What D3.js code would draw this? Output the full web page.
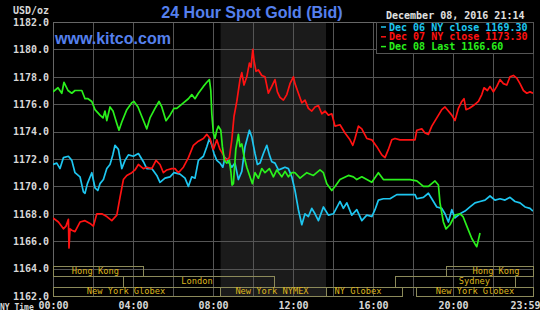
<!DOCTYPE html>
<html><head><meta charset="utf-8">
<script src="https://cdn.jsdelivr.net/npm/d3@7"></script>
<style>html,body{margin:0;padding:0;background:#000;}svg{display:block;}</style>
</head><body>
<script>
// ---- data (hours NY time, USD/oz) ----
const dec06 = [[0,1171.6],[0.19,1171.7],[0.35,1171.3],[0.52,1172.1],[0.77,1172.2],[0.94,1171.9],[1.1,1171.0],[1.35,1170.7],[1.52,1169.6],[1.6,1169.5],[1.72,1170.2],[1.94,1171.0],[2.1,1169.9],[2.24,1169.7],[2.35,1170.2],[2.52,1170.5],[2.69,1171.3],[2.85,1171.6],[2.99,1172.3],[3.1,1173.0],[3.27,1172.7],[3.44,1171.3],[3.6,1171.9],[3.77,1172.3],[4.02,1172.2],[4.27,1172.4],[4.52,1171.8],[4.69,1171.3],[4.94,1171.3],[5.19,1170.8],[5.35,1170.3],[5.6,1170.6],[5.85,1170.7],[6.05,1171.0],[6.35,1170.9],[6.6,1170.6],[6.77,1170.0],[6.94,1170.7],[7.1,1170.6],[7.27,1171.9],[7.52,1172.2],[7.69,1172.9],[7.82,1173.5],[7.94,1173.0],[8.05,1172.4],[8.19,1171.9],[8.35,1171.7],[8.49,1171.4],[8.6,1172.1],[8.77,1171.8],[8.94,1171.4],[9.1,1171.7],[9.27,1170.5],[9.44,1171.1],[9.6,1172.9],[9.82,1174.1],[9.94,1173.6],[10.1,1172.4],[10.22,1171.6],[10.35,1171.7],[10.52,1172.4],[10.69,1173.0],[10.82,1172.3],[10.94,1171.8],[11.1,1171.7],[11.27,1171.2],[11.44,1171.3],[11.6,1171.4],[11.77,1171.3],[11.94,1170.7],[12.1,1169.7],[12.27,1168.3],[12.44,1167.2],[12.6,1168.0],[12.77,1167.8],[12.94,1168.4],[13.1,1168.0],[13.27,1167.5],[13.52,1168.5],[13.77,1167.9],[14.02,1168.0],[14.35,1168.9],[14.52,1168.4],[14.69,1168.8],[14.94,1167.9],[15.19,1168.3],[15.44,1167.5],[15.69,1167.9],[15.94,1167.8],[16.1,1168.3],[16.27,1169.0],[16.52,1169.1],[16.85,1169.1],[17.19,1169.4],[18.1,1169.4],[18.19,1169.1],[18.52,1169.2],[18.77,1169.5],[18.94,1169.1],[19.19,1168.5],[19.44,1168.4],[19.6,1168.0],[19.77,1167.4],[19.94,1168.3],[20.1,1167.7],[20.35,1168.0],[20.6,1168.2],[20.85,1168.5],[21.1,1168.8],[21.35,1168.9],[21.6,1169.0],[21.85,1169.3],[22.1,1169.0],[22.35,1169.1],[22.6,1169.0],[22.85,1169.2],[23.1,1168.9],[23.35,1168.8],[23.6,1168.5],[23.85,1168.4],[24,1168.2]];

const dec07 = [[0,1167.7],[0.27,1167.4],[0.52,1166.9],[0.65,1167.1],[0.77,1167.6],[0.8,1165.5],[0.85,1166.9],[0.94,1166.8],[1.1,1166.7],[1.35,1167.4],[1.6,1167.5],[1.85,1167.3],[2.02,1167.1],[2.19,1168.0],[2.44,1168.0],[2.69,1167.8],[2.94,1167.5],[3.19,1167.9],[3.35,1169.2],[3.52,1170.5],[3.69,1170.8],[3.94,1171.0],[4.1,1171.2],[4.27,1171.6],[4.52,1171.3],[4.69,1171.4],[4.94,1171.3],[5.15,1171.9],[5.35,1171.6],[5.52,1171.0],[5.69,1171.2],[5.94,1171.3],[6.1,1171.3],[6.27,1171.0],[6.52,1171.4],[6.77,1172.1],[7.02,1173.0],[7.27,1173.3],[7.52,1173.5],[7.69,1173.8],[7.85,1173.5],[8.02,1172.7],[8.19,1173.4],[8.35,1172.7],[8.52,1172.3],[8.65,1171.9],[8.82,1172.1],[8.94,1173.4],[9.05,1175.1],[9.19,1176.2],[9.35,1177.8],[9.44,1178.3],[9.55,1177.4],[9.69,1178.0],[9.82,1179.0],[9.9,1178.7],[9.99,1180.0],[10.05,1179.2],[10.15,1178.4],[10.27,1178.5],[10.44,1178.1],[10.6,1178.0],[10.77,1176.8],[10.94,1177.3],[11.1,1177.8],[11.22,1176.9],[11.35,1176.5],[11.52,1176.3],[11.69,1176.7],[11.85,1177.5],[12.02,1178.0],[12.1,1177.5],[12.27,1176.8],[12.44,1176.1],[12.6,1176.3],[12.77,1175.7],[12.94,1175.5],[13.1,1175.8],[13.27,1175.9],[13.44,1175.3],[13.6,1175.5],[13.77,1175.2],[13.94,1175.3],[14.1,1174.4],[14.35,1174.5],[14.6,1173.9],[14.85,1173.4],[14.99,1173.0],[15.1,1173.5],[15.27,1174.4],[15.44,1174.2],[15.69,1173.5],[15.94,1173.4],[16.19,1172.9],[16.44,1172.3],[16.6,1172.1],[16.77,1172.7],[16.94,1173.4],[17.1,1173.5],[17.35,1173.4],[18.1,1173.4],[18.19,1174.1],[18.44,1174.2],[18.6,1173.9],[18.77,1173.8],[18.94,1174.4],[19.19,1175.0],[19.44,1175.6],[19.6,1175.8],[19.77,1175.5],[19.94,1175.2],[20.1,1174.8],[20.27,1175.7],[20.44,1176.2],[20.55,1176.4],[20.65,1175.6],[20.82,1175.7],[21.02,1175.9],[21.27,1176.2],[21.44,1176.7],[21.55,1177.2],[21.72,1177.0],[21.85,1177.3],[22.02,1176.9],[22.19,1177.3],[22.35,1177.8],[22.52,1177.5],[22.69,1177.4],[22.85,1178.0],[23.02,1178.1],[23.19,1177.9],[23.35,1177.5],[23.52,1177.0],[23.69,1176.8],[23.85,1176.9],[24,1176.8]];

const dec08 = [[0,1176.9],[0.25,1177.2],[0.44,1176.8],[0.55,1177.6],[0.75,1177.0],[0.94,1176.8],[1.1,1177.0],[1.44,1177.0],[1.6,1176.4],[1.75,1176.4],[1.94,1176.2],[2.1,1175.6],[2.35,1175.2],[2.5,1175.0],[2.6,1175.5],[2.69,1174.8],[2.85,1175.8],[3.0,1175.5],[3.19,1174.6],[3.3,1174.1],[3.44,1174.7],[3.69,1175.6],[3.94,1176.1],[4.05,1176.2],[4.25,1175.8],[4.44,1175.1],[4.69,1174.2],[4.85,1175.0],[5.1,1175.7],[5.3,1176.2],[5.44,1175.8],[5.65,1174.8],[5.85,1175.2],[6.05,1175.7],[6.19,1175.7],[6.52,1176.1],[6.77,1176.4],[6.94,1176.7],[7.1,1176.4],[7.27,1176.8],[7.52,1177.3],[7.69,1177.6],[7.82,1177.8],[7.89,1177.0],[7.94,1175.3],[8.02,1173.9],[8.1,1173.5],[8.19,1174.1],[8.27,1174.4],[8.39,1174.1],[8.47,1172.9],[8.57,1171.9],[8.69,1171.7],[8.82,1171.9],[8.9,1171.0],[8.95,1170.1],[9.02,1170.2],[9.14,1172.7],[9.27,1173.8],[9.35,1172.9],[9.44,1173.1],[9.55,1172.2],[9.69,1171.4],[9.85,1170.7],[9.97,1170.2],[10.1,1171.0],[10.27,1170.6],[10.44,1171.3],[10.6,1171.0],[10.82,1171.3],[11.02,1170.7],[11.19,1171.2],[11.44,1170.7],[11.6,1171.1],[11.77,1170.7],[11.94,1171.0],[12.1,1171.0],[12.35,1170.6],[12.69,1171.0],[13.02,1170.8],[13.35,1171.2],[13.52,1171.0],[13.69,1170.2],[13.94,1169.7],[14.1,1170.0],[14.35,1170.5],[14.77,1170.8],[15.02,1170.7],[15.19,1170.5],[15.44,1170.7],[15.69,1170.5],[15.94,1170.3],[16.27,1171.0],[16.52,1170.5],[16.85,1170.5],[17.85,1170.5],[18.19,1170.4],[18.52,1170.0],[18.77,1170.0],[19.1,1170.4],[19.27,1170.1],[19.35,1168.8],[19.52,1167.4],[19.65,1166.9],[19.85,1167.2],[20.1,1167.9],[20.35,1168.0],[20.5,1167.8],[20.69,1167.1],[20.94,1166.2],[21.1,1165.8],[21.19,1165.6],[21.27,1166.1],[21.35,1166.6]];

const seriesColors = ["#1ec6f0", "#ff1212", "#2af01c"];
const legendLabels = ["Dec 06 NY close", "Dec 07 NY close", "Dec 08 Last"];
const legendValues = [1169.30, 1173.30, 1166.60];

const yTicks = [1162,1164,1166,1168,1170,1172,1174,1176,1178,1180,1182];
const xTicks = [0,4,8,12,16,20,24];
const xTickLabels = ["00:00","04:00","08:00","12:00","16:00","20:00","23:59"];
const gridHours = [2,4,6,8,10,12,14,16,18,20,22];

const nySession = [8.38, 13.65];

const sessionNames = ["Hong Kong","Hong Kong","London","Sydney","New York Globex","New York NYMEX","NY Globex","New York Globex"];
const sessionRow   = [0,0,1,1,2,2,2,2];
const sessionStart = [0,19.65,3.5,17.1,0,8.35,13.65,18.15];
const sessionEnd   = [4.5,24,11.05,23.1,8.35,13.65,17.45,24];
const sessionLabel = [2.12,22.15,7.2,21.07,3.65,10.95,15.25,21.1];

// ---- layout ----
const W = 540, H = 310;
const L = 53, R = 533, T = 22, B = 296;
const x = d3.scaleLinear().domain([0,24]).range([L,R]);
const y = d3.scaleLinear().domain([1162,1182]).range([B,T]);
const mono = "'DejaVu Sans Mono', monospace";
const sans = "'Liberation Sans', Arial, sans-serif";

const svg = d3.select("body").append("svg").attr("width",W).attr("height",H);
svg.append("rect").attr("width",W).attr("height",H).attr("fill","#000");

// NY session shading
svg.append("rect").attr("x",x(nySession[0])).attr("y",T)
  .attr("width",x(nySession[1])-x(nySession[0])).attr("height",B-T).attr("fill","#1b1b1b");

// grid
const grid = svg.append("g").attr("shape-rendering","crispEdges").attr("stroke","#555").attr("stroke-width",1);
grid.selectAll("line.h").data(yTicks.slice(1,-1)).join("line").attr("class","h")
  .attr("x1",L).attr("x2",R).attr("y1",d=>Math.round(y(d))+0.5).attr("y2",d=>Math.round(y(d))+0.5);
grid.selectAll("line.v").data(gridHours).join("line").attr("class","v")
  .attr("y1",T).attr("y2",B).attr("x1",d=>Math.round(x(d))+0.5).attr("x2",d=>Math.round(x(d))+0.5);
// frame
grid.append("line").attr("x1",L).attr("x2",R).attr("y1",T+0.5).attr("y2",T+0.5).attr("stroke","#666");
grid.append("line").attr("x1",L+0.5).attr("x2",L+0.5).attr("y1",T).attr("y2",B).attr("stroke","#666");
grid.append("line").attr("x1",R+0.5).attr("x2",R+0.5).attr("y1",T).attr("y2",B).attr("stroke","#444");

// y axis
const yAxis = d3.axisLeft(y).tickValues(yTicks).tickFormat(d3.format(".1f")).tickSize(0).tickPadding(4);
const ya = svg.append("g").attr("transform",`translate(${L},0)`).call(yAxis);
ya.select(".domain").remove();
ya.selectAll("text").attr("fill","#d8d8d8").attr("font-family",mono).attr("font-weight","bold").attr("font-size","10px");

// x axis
const xAxis = d3.axisBottom(x).tickValues(xTicks).tickFormat((d,i)=>xTickLabels[i]).tickSize(0).tickPadding(0);
const xa = svg.append("g").attr("transform",`translate(0,${B})`).call(xAxis);
xa.select(".domain").remove();
xa.selectAll("text").attr("fill","#d8d8d8").attr("font-family",mono).attr("font-weight","bold").attr("font-size","10px")
  .attr("dy","12.6px");
xa.selectAll(".tick").filter(d=>d===24).select("text").attr("text-anchor","end").attr("x",W-R);

svg.append("text").attr("x",0).attr("y",309.5).attr("text-anchor","start").attr("fill","#d8d8d8")
  .attr("font-family",mono).attr("font-size","8px").attr("font-weight","bold").text("NY Time");
svg.append("text").attr("x",49).attr("y",14).attr("text-anchor","end").attr("fill","#d8d8d8")
  .attr("font-family",mono).attr("font-size","10px").attr("font-weight","bold").text("USD/oz");

// session bars
const rowTop = r => [266,276,286.5][r];
const rowBot = r => [276,286.5,296][r];
const sg = svg.append("g");
sessionNames.forEach((n,i)=>{
  const r = sessionRow[i];
  sg.append("rect").attr("x",Math.round(x(sessionStart[i]))+0.5).attr("y",Math.round(rowTop(r))+0.5)
    .attr("width",Math.round(x(sessionEnd[i]))-Math.round(x(sessionStart[i])))
    .attr("height",Math.round(rowBot(r))-Math.round(rowTop(r)))
    .attr("fill","none").attr("stroke","#8c8a5a").attr("stroke-width",1).attr("shape-rendering","crispEdges");
  sg.append("text").attr("x",x(sessionLabel[i])).attr("y",rowTop(r)+7.8).attr("text-anchor","middle")
    .attr("fill","#dcb41e").attr("font-family",mono).attr("font-size","8.7px").text(n);
});

// lines
svg.append("clipPath").attr("id","clip").append("rect").attr("x",L).attr("y",T).attr("width",R-L).attr("height",B-T);
const line = d3.line().x(d=>x(d[0])).y(d=>y(d[1]));
const lg = svg.append("g").attr("clip-path","url(#clip)");
[dec06, dec07, dec08].forEach((s,i)=>{
  lg.append("path").datum(s).attr("d",line).attr("fill","none").attr("stroke",seriesColors[i])
    .attr("stroke-width",1.7).attr("stroke-linejoin","round");
});

// title & branding
svg.append("text").attr("x",252).attr("y",17.5).attr("text-anchor","middle").attr("fill","#5580ee")
  .attr("font-family",sans).attr("font-weight","bold").attr("font-size","16px").text("24 Hour Spot Gold (Bid)");
svg.append("text").attr("x",55).attr("y",44).attr("fill","#5580ee")
  .attr("font-family",sans).attr("font-weight","bold").attr("font-size","16px").text("www.kitco.com");
svg.append("text").attr("x",386).attr("y",18.5).attr("fill","#e0e0e0")
  .attr("font-family",mono).attr("font-weight","bold").attr("font-size","10px").text("December 08, 2016 21:14");

// legend
const leg = svg.append("g");
leg.append("rect").attr("x",376.5).attr("y",T+0.5).attr("width",R-376).attr("height",31)
  .attr("fill","#000").attr("stroke","#555").attr("shape-rendering","crispEdges");
legendLabels.forEach((t,i)=>{
  const by = 30.5 + i*9.8;
  leg.append("line").attr("x1",381).attr("x2",386).attr("y1",by-3.5).attr("y2",by-3.5)
    .attr("stroke",seriesColors[i]).attr("stroke-width",1.5);
  leg.append("text").attr("x",389).attr("y",by).attr("fill",seriesColors[i])
    .attr("font-family",mono).attr("font-weight","bold").attr("font-size","10px")
    .text(`${t} ${legendValues[i].toFixed(2)}`);
});
</script>
</body></html>
